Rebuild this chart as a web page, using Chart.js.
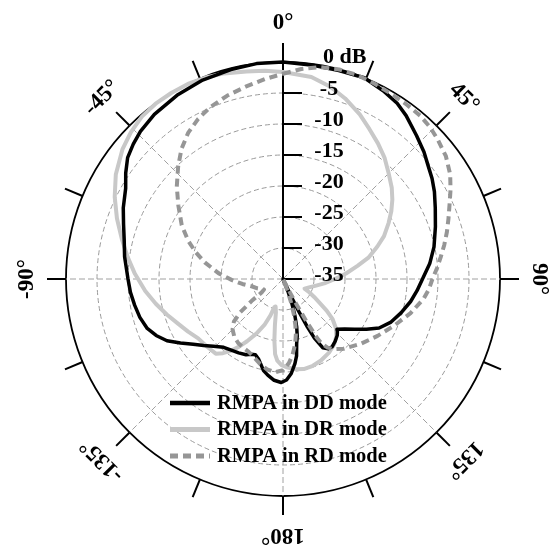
<!DOCTYPE html>
<html>
<head>
<meta charset="utf-8">
<script src="https://cdn.jsdelivr.net/npm/chart.js@4.4.1/dist/chart.umd.min.js"></script>
<style>
  html, body { margin: 0; padding: 0; background: #fff; }
  #wrap { width: 556px; height: 550px; position: relative; }
</style>
</head>
<body>
<div id="wrap"><canvas id="pattern"></canvas></div>
<script>
// Radiation patterns (normalised gain in dB) of the reconfigurable microstrip patch antenna.
const seriesNames = ['RMPA in DD mode', 'RMPA in DR mode', 'RMPA in RD mode'];

// DD mode
const ddAngles = [0, 8, 15, 22, 28, 33, 37, 43, 48, 52, 56, 60, 65, 71, 78, 84, 90, 95, 100, 106, 112, 117, 121, 125, 129, 133, 134, 136, 140, 144, 147, 150, 152, 153, 154, 155, 156, 158, 160, 162, 164, 166, 168, 170, 172, 175, 178, 181, 185, 189, 192, 194, 197, 200, 203, 206, 211, 216, 221, 226, 230, 234, 238, 242, 246, 250, 255, 260, 265, 270, 278, 284, 289, 294, 300, 304, 308, 312, 316, 322, 330, 338, 346, 353];
const ddGain = [0, -0.2, -0.2, 0, -0.6, -1.2, -2.0, -3.4, -4.4, -5.3, -6.0, -6.8, -7.9, -9.0, -10.1, -11.2, -12.5, -13.3, -14.1, -15.2, -16.3, -17.6, -19.3, -20.9, -22.2, -23.1, -22.8, -22.4, -21.9, -21.5, -21.6, -22.2, -24.2, -26.3, -29.0, -32.0, -35, -33.0, -30.8, -28.8, -27.0, -25.5, -24.4, -22.4, -21.2, -19.7, -18.7, -18.3, -18.6, -19.3, -19.9, -20.6, -21.5, -22.0, -21.8, -21.4, -21.1, -20.8, -20.4, -19.4, -18.3, -17.1, -15.5, -13.8, -12.6, -11.7, -11.1, -10.7, -10.3, -10.0, -9.2, -8.6, -7.8, -6.8, -5.7, -4.4, -3.2, -2.5, -1.9, -1.3, -0.8, -0.4, -0.2, 0];

// DR mode
const drAngles = [0, 8, 14, 19, 25, 30, 35, 40, 45, 50, 54, 58, 62, 67, 71, 76, 80, 85, 90, 96, 102, 108, 114, 117, 120, 123, 126, 129, 133, 137, 142, 148, 155, 161, 167, 172, 177, 181, 184, 186, 188, 190, 192, 195, 197, 199, 202, 206, 210, 213, 216, 219, 222, 228, 235, 241, 247, 253, 259, 265, 272, 278, 284, 290, 296, 302, 309, 314, 319, 324, 329, 334, 339, 344, 350, 355];
const drGain = [-1.6, -2.1, -3.1, -4.2, -5.7, -7.1, -8.3, -9.5, -10.9, -12.1, -13.2, -14.4, -15.7, -17.3, -18.9, -20.8, -22.8, -24.8, -26.6, -28.3, -29.7, -30.6, -31.2, -30.2, -29.2, -28.0, -26.3, -24.7, -23.3, -22.4, -21.6, -21.0, -20.5, -20.2, -20.1, -20.3, -20.7, -21.1, -21.8, -22.8, -25.0, -27.5, -29.5, -30.4, -30.3, -28.8, -27.0, -25.2, -23.4, -22.0, -20.7, -19.6, -18.8, -18.6, -18.3, -17.5, -16.6, -15.4, -14.1, -12.7, -11.1, -9.7, -8.2, -6.5, -4.8, -3.2, -1.7, -0.9, -0.3, -0.05, 0, 0, -0.2, -0.5, -1.0, -1.3];

// RD mode
const rdAngles = [0, 5, 10, 15, 20, 25, 30, 35, 40, 44, 48, 53, 58, 62, 66, 70, 74, 78, 82, 86, 90, 94, 98, 105, 113, 121, 130, 139, 144, 147, 149, 150, 151, 152, 153, 155, 157, 159, 161, 163, 165, 167, 169, 171, 173, 176, 180, 185, 190, 195, 200, 205, 210, 215, 220, 225, 229, 232, 235, 238, 241, 245, 250, 257, 263, 269, 275, 282, 287, 292, 298, 305, 311, 317, 322, 327, 332, 337, 343, 349, 355];
const rdGain = [-1.9, -1.0, -0.3, 0, 0, -0.2, -0.4, -0.5, -0.6, -0.9, -1.4, -2.1, -3.2, -4.4, -5.6, -6.6, -7.5, -8.4, -9.3, -10.1, -10.9, -11.4, -12.1, -13.7, -15.6, -17.2, -18.7, -20.1, -21.0, -21.8, -22.8, -24.0, -27.0, -30.5, -33.0, -35, -34.5, -33.0, -31.0, -29.0, -27.3, -25.8, -24.6, -23.6, -22.6, -21.4, -20.3, -19.9, -20.2, -20.8, -21.5, -22.0, -22.2, -22.4, -22.8, -23.5, -24.5, -26.2, -28.8, -31.0, -31.5, -31.2, -30.6, -29.8, -28.4, -26.7, -24.6, -22.1, -20.3, -18.5, -16.5, -14.4, -12.3, -10.2, -8.4, -6.9, -5.8, -4.9, -4.1, -3.4, -2.6];

// Radial (gain) ticks and angular ticks
const gainTicks = [-35, -30, -25, -20, -15, -10, -5, 0];
const gainTickLabels = ['-35', '-30', '-25', '-20', '-15', '-10', '-5', '0 dB'];
const angleTicks = [0, 45, 90, 135, 180, 225, 270, 315];
const angleTickLabels = ['0°', '45°', '90°', '135°', '180°', '-135°', '-90°', '-45°'];
const minorAngleStep = 22.5;

const seriesColors = ['#000000', '#c8c8c8', '#969696'];
const seriesWidths = [3.5, 4, 4];
const seriesDashes = [[], [], [8, 5]];
const drawOrder = [2, 3, 1];

// one category per degree; the curves are defined at the listed angles only
const angleCategories = Array.from({ length: 360 }, (_, i) => i);
function onDegreeGrid(angles, gains) {
  const arr = new Array(angleCategories.length).fill(null);
  angles.forEach((a, i) => { arr[a] = gains[i]; });
  return arr;
}

const serifBold = size => `bold ${size}px "Liberation Serif", "Times New Roman", serif`;

// frame: angle ticks, radial axis ticks and labels, legend
const polarFrame = {
  id: 'polarFrame',
  beforeDatasetsDraw(chart) {
    const s = chart.scales.r;
    const ctx = chart.ctx;
    const R = s.drawingArea, cx = s.xCenter, cy = s.yCenter;
    const perDeg = angleCategories.length / 360;
    ctx.save();
    ctx.strokeStyle = '#000';
    ctx.lineWidth = 2;
    ctx.setLineDash([]);
    // outer angular tick marks
    for (let a = 0; a < 360; a += minorAngleStep) {
      const p0 = s.getPointPosition(a * perDeg, R);
      const p1 = s.getPointPosition(a * perDeg, R + 19);
      ctx.beginPath();
      ctx.moveTo(p0.x, p0.y);
      ctx.lineTo(p1.x, p1.y);
      ctx.stroke();
    }
    // radial axis tick marks
    gainTicks.forEach(v => {
      if (v === s.max) return;
      const y = cy - s.getDistanceFromCenterForValue(v);
      ctx.beginPath();
      ctx.moveTo(cx, y);
      ctx.lineTo(cx + 19, y);
      ctx.stroke();
    });
    ctx.restore();
  },
  afterDatasetsDraw(chart) {
    const s = chart.scales.r;
    const ctx = chart.ctx;
    const R = s.drawingArea, cx = s.xCenter, cy = s.yCenter;
    const perDeg = angleCategories.length / 360;
    ctx.save();
    ctx.fillStyle = '#000';

    // gain labels along the radial axis
    ctx.font = serifBold(22);
    ctx.textBaseline = 'alphabetic';
    gainTicks.forEach((v, i) => {
      const y = cy - s.getDistanceFromCenterForValue(v);
      if (v === s.max) {
        ctx.textAlign = 'left';
        ctx.fillText(gainTickLabels[i], cx + 40, y + 1);
      } else {
        ctx.textAlign = 'center';
        ctx.fillText(gainTickLabels[i], cx + 46, y + 1.5);
      }
    });

    // angle labels, turned with their direction
    ctx.font = serifBold(23);
    ctx.textAlign = 'center';
    ctx.textBaseline = 'middle';
    angleTicks.forEach((a, i) => {
      const p = s.getPointPosition(a * perDeg, R + 39);
      const rot = (a <= 180 ? a : a - 360) * Math.PI / 180;
      ctx.save();
      ctx.translate(p.x, p.y);
      ctx.rotate(rot);
      ctx.fillText(angleTickLabels[i], 0, 0);
      ctx.restore();
    });

    // legend
    const lx = 170, lw = 40, rowY = [403, 429.5, 456];
    ctx.font = serifBold(20.5);
    ctx.textAlign = 'left';
    ctx.textBaseline = 'alphabetic';
    chart.data.datasets.forEach((ds, i) => {
      const y = rowY[i];
      ctx.save();
      ctx.strokeStyle = ds.borderColor;
      ctx.lineWidth = ds.borderWidth + 1;
      ctx.setLineDash(ds.borderDash || []);
      ctx.lineCap = 'butt';
      ctx.beginPath();
      ctx.moveTo(lx, y);
      ctx.lineTo(lx + lw, y);
      ctx.stroke();
      ctx.restore();
      ctx.fillText(ds.label, lx + lw + 7, y + 5.5);
    });
    ctx.restore();
  }
};

const seriesData = [
  onDegreeGrid(ddAngles, ddGain),
  onDegreeGrid(drAngles, drGain),
  onDegreeGrid(rdAngles, rdGain)
];

new Chart(document.getElementById('pattern'), {
  type: 'radar',
  data: {
    labels: angleCategories,
    datasets: seriesNames.map((name, i) => ({
      label: name,
      data: seriesData[i],
      borderColor: seriesColors[i],
      backgroundColor: 'transparent',
      borderWidth: seriesWidths[i],
      borderDash: seriesDashes[i],
      order: drawOrder[i],
      fill: false,
      spanGaps: true,
      tension: 0,
      pointRadius: 0,
      pointHoverRadius: 0
    }))
  },
  options: {
    responsive: true,
    maintainAspectRatio: false,
    animation: false,
    events: [],
    layout: { padding: { left: 66, right: 55, top: 62, bottom: 53 } },
    elements: { line: { borderJoinStyle: 'round' } },
    plugins: { legend: { display: false }, tooltip: { enabled: false } },
    scales: {
      r: {
        min: gainTicks[0],
        max: gainTicks[gainTicks.length - 1],
        ticks: { stepSize: 5, display: false },
        pointLabels: { display: false },
        grid: {
          circular: true,
          color: c => (c.tick && c.tick.value === 0) ? '#000' : '#9a9a9a',
          lineWidth: c => {
            if (!c.tick || c.tick.value === gainTicks[0]) return 0;
            return c.tick.value === 0 ? 1.8 : 1;
          }
        },
        border: { dash: c => (c.tick && c.tick.value === 0) ? [] : [5, 3] },
        angleLines: {
          color: c => c.index === 0 ? '#000' : '#a0a0a0',
          lineWidth: c => c.index === 0 ? 2 : (c.index % 45 === 0 ? 1 : 0),
          borderDash: c => c.index === 0 ? [] : [6, 3]
        }
      }
    }
  },
  plugins: [polarFrame]
});
</script>
</body>
</html>
